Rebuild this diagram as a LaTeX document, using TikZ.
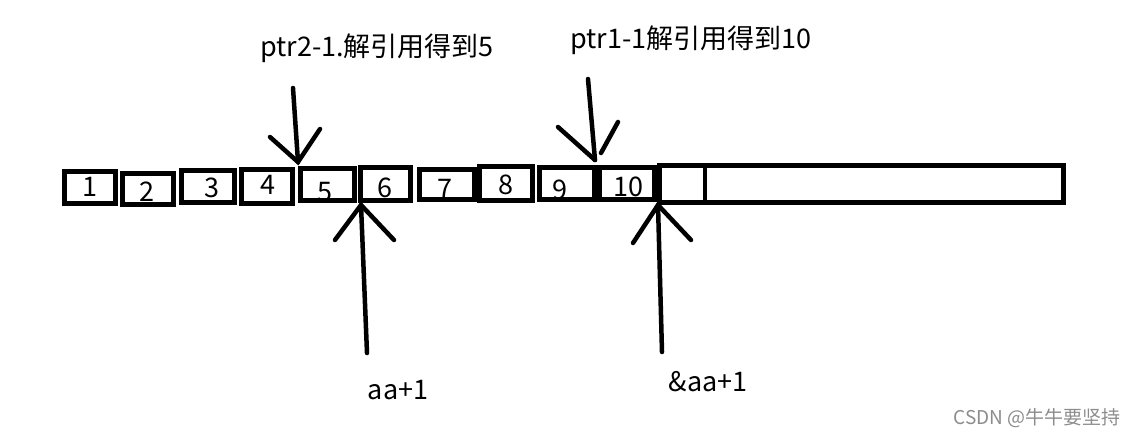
\documentclass[tikz,border=0pt]{standalone}
\usepackage{fontspec}
\setmainfont{Noto Sans CJK SC}
\usepackage{xcolor}
\usepackage{tikz}
\newcommand{\bigtxt}{\fontsize{27}{31}\selectfont}

\begin{document}
\begin{tikzpicture}[x=1pt,y=-1pt,
  cell/.style={draw,line width=4.5pt,inner sep=0pt},
  num/.style={font=\bigtxt,inner sep=0pt},
  pen/.style={line width=4.5pt,line cap=round}]
\useasboundingbox (0,0) rectangle (1136,436);
%% the cells
\node[cell,minimum width=51,minimum height=32] (c1) at (90,187.5) {};
\node[cell,minimum width=51,minimum height=31] (c2) at (148,189) {};
\node[cell,minimum width=53,minimum height=32] (c3) at (208,186.5) {};
\node[cell,minimum width=51,minimum height=34] (c4) at (267,186.5) {};
\node[cell,minimum width=54,minimum height=32] (c5) at (327.5,184.5) {};
\node[cell,minimum width=50,minimum height=33] (c6) at (385.5,184) {};
\node[cell,minimum width=55,minimum height=30] (c7) at (447,184.5) {};
\node[cell,minimum width=53,minimum height=34] (c8) at (506,183.5) {};
\node[cell,minimum width=55,minimum height=32] (c9) at (567,183.5) {};
\node[cell,minimum width=55,minimum height=32] (c10) at (627,183.5) {};
\node[cell,minimum width=404,minimum height=37] (rest) at (861.5,184) {};
\draw[line width=4.5pt] (705,163) -- (705,205);
%% the numbers
\node[num] (n1) at (90,187) {1};
\node[num] (n2) at (147,192) {2};
\node[num] (n3) at (212,188) {3};
\node[num] (n4) at (268,185) {4};
\node[num] (n5) at (325,192) {5};
\node[num] (n6) at (385,188) {6};
\node[num] (n7) at (445,189) {7};
\node[num] (n8) at (506,185) {8};
\node[num] (n9) at (560,190) {9};
\node[num] (n10) at (628,187) {10};
%% ptr2-1
\node[num] (ptrtwo) at (377,48) {ptr2-1.解引用得到5};
\coordinate (a1) at (293,88);
\coordinate (a1tip) at (298,162);
\coordinate (a1l) at (270,137);
\coordinate (a1r) at (320,129);
\draw[pen] (a1) -- (a1tip);
\draw[pen] (a1l) -- (a1tip) -- (a1r);
%% ptr1-1
\node[num] (ptrone) at (691,40) {ptr1-1解引用得到10};
\coordinate (a2) at (588,79);
\coordinate (a2tip) at (595,160);
\coordinate (a2l) at (558,127);
\coordinate (a2r) at (618,122);
\coordinate (a2rend) at (601,153);
\draw[pen] (a2) -- (a2tip);
\draw[pen] (a2l) -- (a2tip);
\draw[pen] (a2r) -- (a2rend);
%% aa+1
\node[num] (aa) at (398,390) {aa+1};
\coordinate (a3) at (367,353);
\coordinate (a3tip) at (361,205);
\coordinate (a3l) at (335,240);
\coordinate (a3r) at (394,240);
\draw[pen] (a3) -- (a3tip);
\draw[pen] (a3l) -- (a3tip) -- (a3r);
%% &aa+1
\node[num] (addr) at (708,382) {\&aa+1};
\coordinate (a4) at (662,352);
\coordinate (a4tip) at (658,205);
\coordinate (a4l) at (633,243);
\coordinate (a4r) at (691,240);
\draw[pen] (a4) -- (a4tip);
\draw[pen] (a4l) -- (a4tip) -- (a4r);
%%
\node[anchor=east,font=\fontsize{19}{22}\selectfont,text=black!45,inner sep=0pt] (mark) at (1121,418) {CSDN @牛牛要坚持};
\end{tikzpicture}
\end{document}
